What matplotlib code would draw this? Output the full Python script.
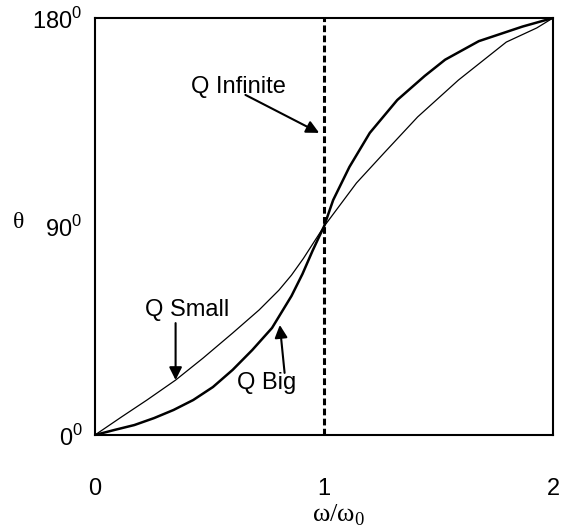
import matplotlib.pyplot as plt

plt.rcParams["font.family"] = ["Liberation Sans", "DejaVu Sans"]

# phase angle (degrees) vs normalised frequency
q_big_x = [0.0, 0.086, 0.172, 0.258, 0.343, 0.429, 0.515, 0.601, 0.687, 0.773,
           0.858, 0.906, 0.95, 0.976, 1.0, 1.04, 1.111, 1.2, 1.32, 1.44, 1.529,
           1.676, 1.867, 2.0]
q_big_y = [0.0, 2.2, 4.3, 7.3, 10.8, 15.1, 20.7, 28.1, 36.7, 46.2,
           60.0, 69.5, 79.5, 85.0, 90.0, 101.4, 115.7, 130.4, 144.6, 155.0, 162.0,
           170.0, 176.3, 180.0]

q_small_x = [0.0, 0.116, 0.227, 0.352, 0.472, 0.601, 0.717, 0.803, 0.858, 0.91,
             1.0, 1.142, 1.262, 1.409, 1.587, 1.796, 1.929, 2.0]
q_small_y = [0.0, 7.8, 15.1, 23.7, 33.2, 44.0, 54.0, 62.5, 69.0, 76.2,
             90.0, 108.8, 121.7, 137.3, 153.2, 169.6, 175.7, 180.0]

x_ticks = [0, 1, 2]
x_tick_labels = ["0", "1", "2"]
y_ticks = [0, 90, 180]
y_tick_labels = [r"0$^\mathregular{0}$", r"90$^\mathregular{0}$", r"180$^\mathregular{0}$"]
resonance = 1.0

fig = plt.figure(figsize=(5.62, 5.29), dpi=100)
ax = fig.add_axes([0.169, 0.1777, 0.815, 0.7883])

ax.plot(q_small_x, q_small_y, color="black", lw=0.9, solid_joinstyle="round")
ax.plot(q_big_x, q_big_y, color="black", lw=1.8, solid_joinstyle="round")
ax.axvline(resonance, color="black", lw=2.2, dashes=(2.2, 1.1))

ax.set_xlim(0, 2)
ax.set_ylim(0, 180)
for s in ax.spines.values():
    s.set_linewidth(1.5)

ax.set_xticks(x_ticks)
ax.set_xticklabels(x_tick_labels, fontsize=17)
ax.tick_params(axis="x", length=0, pad=31)
ax.set_yticks(y_ticks)
ax.set_yticklabels(y_tick_labels, fontsize=17)
ax.tick_params(axis="y", which="major", length=0, pad=9)
ax.set_yticks([90], minor=True)
ax.tick_params(axis="y", which="minor", length=9, width=1.5)

fig.text(338 / 562, 1 - 515 / 529, r"ω/ω$_\mathregular{0}$", family="Liberation Serif",
         fontsize=19, ha="center", va="center")
fig.text(19 / 562, 1 - 223 / 529, "θ", family="Liberation Serif",
         fontsize=17, ha="center", va="center")

arrow = dict(arrowstyle="-|>", color="black", lw=1.5, mutation_scale=19, shrinkA=0, shrinkB=0)

ax.text(0.42, 150, "Q Infinite", fontsize=17, ha="left", va="center")
ax.annotate("", xy=(0.979, 130.4), xytext=(0.657, 146.8), arrowprops=arrow)

ax.text(0.403, 54, "Q Small", fontsize=17, ha="center", va="center")
ax.annotate("", xy=(0.352, 23.7), xytext=(0.352, 48.3), arrowprops=arrow)

ax.text(0.751, 22.4, "Q Big", fontsize=17, ha="center", va="center")
ax.annotate("", xy=(0.807, 47.5), xytext=(0.828, 26.8), arrowprops=arrow)

fig.savefig("out.png", dpi=100)
